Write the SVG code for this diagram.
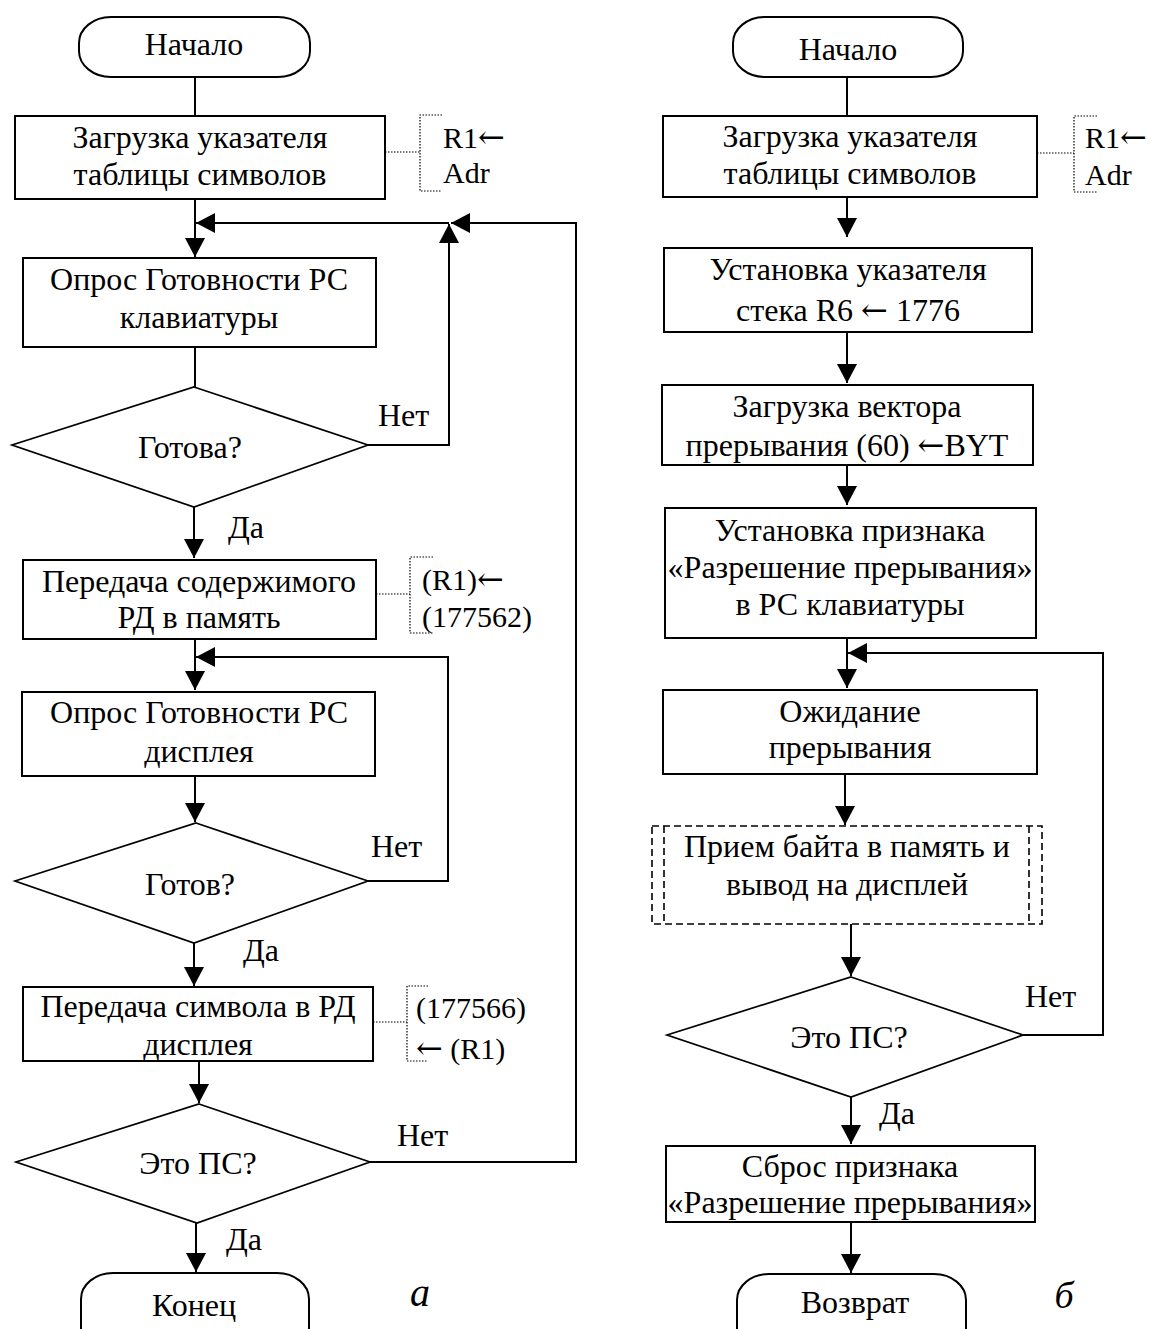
<svg xmlns="http://www.w3.org/2000/svg" width="1155" height="1329" viewBox="0 0 1155 1329">
<defs>
<marker id="ah" markerUnits="userSpaceOnUse" markerWidth="22" markerHeight="22" refX="19" refY="10" orient="auto">
<path d="M0,0 L19,10 L0,20 Z" fill="#000"/>
</marker>
<style>
text{font-family:"Liberation Serif","Times New Roman",serif;font-size:32px;fill:#000;text-anchor:middle}
.l{text-anchor:start}
.n{font-size:30px}
.ar{font-family:"DejaVu Serif","DejaVu Sans",serif;font-size:32px}
.it{font-style:italic}
.b{fill:#fff;stroke:#000;stroke-width:2}
.dm{fill:#fff;stroke:#000;stroke-width:1.7}
.c{fill:none;stroke:#000;stroke-width:2}
.a{fill:none;stroke:#000;stroke-width:2;marker-end:url(#ah)}
.d{fill:none;stroke:#000;stroke-width:1.2;stroke-dasharray:1.5,1.5}
.dash{fill:none;stroke:#000;stroke-width:1.6;stroke-dasharray:7,4}
</style>
</defs>
<rect width="1155" height="1329" fill="#fff"/>

<g id="connectors">
<!-- left chart -->
<line class="c" x1="195" y1="77" x2="195" y2="116"/>
<line class="a" x1="195" y1="199" x2="195" y2="257"/>
<line class="a" x1="449" y1="223" x2="196" y2="223"/>
<line class="c" x1="195" y1="347" x2="195" y2="387"/>
<polyline class="a" points="368,445 449,445 449,224"/>
<polyline class="a" points="370,1162 576,1162 576,223 451,223"/>
<line class="a" x1="194" y1="507" x2="194" y2="558"/>
<line class="a" x1="195" y1="639" x2="195" y2="690"/>
<polyline class="a" points="368,881 448,881 448,657 196,657"/>
<line class="a" x1="195" y1="776" x2="195" y2="822"/>
<line class="a" x1="194" y1="943" x2="194" y2="986"/>
<line class="a" x1="199" y1="1061" x2="199" y2="1103"/>
<line class="a" x1="196" y1="1223" x2="196" y2="1272"/>
<!-- right chart -->
<line class="c" x1="847" y1="77" x2="847" y2="116"/>
<line class="a" x1="847" y1="197" x2="847" y2="237"/>
<line class="a" x1="847" y1="332" x2="847" y2="383"/>
<line class="a" x1="847" y1="465" x2="847" y2="505"/>
<line class="a" x1="847" y1="638" x2="847" y2="688"/>
<polyline class="a" points="1023,1035 1103,1035 1103,653 848,653"/>
<line class="a" x1="845" y1="774" x2="845" y2="825"/>
<line class="a" x1="851" y1="924" x2="851" y2="976"/>
<line class="a" x1="851" y1="1097" x2="851" y2="1144"/>
<line class="a" x1="851" y1="1222" x2="851" y2="1273"/>
</g>

<!-- ===== Left chart (а) ===== -->
<g id="startL">
<rect class="b" x="79" y="17" width="231" height="60" rx="32" ry="26"/>
<text x="194" y="55">Начало</text>
</g>
<g id="boxL1">
<rect class="b" x="15" y="116" width="370" height="83"/>
<text x="200" y="148">Загрузка указателя</text>
<text x="200" y="185">таблицы символов</text>
</g>
<g id="noteL1">
<line class="d" x1="385" y1="152" x2="420" y2="152"/>
<polyline class="d" points="442,115 420,115 420,191 442,191"/>
<text class="l n" x="443" y="148">R1<tspan class="ar">←</tspan></text>
<text class="l n" x="443" y="183">Adr</text>
</g>
<g id="boxL2">
<rect class="b" x="23" y="258" width="353" height="89"/>
<text x="199" y="290">Опрос Готовности РС</text>
<text x="199" y="328">клавиатуры</text>
</g>
<g id="decL1">
<polygon class="dm" points="194,387 368,445 194,507 12,445"/>
<text x="190" y="458">Готова?</text>
</g>
<text class="l" x="378" y="426">Нет</text>
<text class="l" x="228" y="538">Да</text>
<g id="boxL3">
<rect class="b" x="23" y="560" width="353" height="79"/>
<text x="199" y="592">Передача содержимого</text>
<text x="199" y="628">РД в память</text>
</g>
<g id="noteL3">
<line class="d" x1="376" y1="594" x2="410" y2="594"/>
<polyline class="d" points="433,557 410,557 410,633 433,633"/>
<text class="l n" x="422" y="590">(R1)<tspan class="ar">←</tspan></text>
<text class="l n" x="422" y="627">(177562)</text>
</g>
<g id="boxL4">
<rect class="b" x="22" y="692" width="353" height="84"/>
<text x="199" y="723">Опрос Готовности РС</text>
<text x="199" y="762">дисплея</text>
</g>
<g id="decL2">
<polygon class="dm" points="196,823 368,881 194,943 15,881"/>
<text x="190" y="895">Готов?</text>
</g>
<text class="l" x="371" y="857">Нет</text>
<text class="l" x="243" y="961">Да</text>
<g id="boxL5">
<rect class="b" x="23" y="987" width="350" height="74"/>
<text x="198" y="1017">Передача символа в РД</text>
<text x="198" y="1055">дисплея</text>
</g>
<g id="noteL5">
<line class="d" x1="373" y1="1022" x2="407" y2="1022"/>
<polyline class="d" points="428,986 407,986 407,1061 428,1061"/>
<text class="l n" x="416" y="1018">(177566)</text>
<text class="l n" x="416" y="1059"><tspan class="ar">←</tspan> (R1)</text>
</g>
<g id="decL3">
<polygon class="dm" points="199,1104 370,1162 197,1223 16,1162"/>
<text x="198" y="1174">Это ПС?</text>
</g>
<text class="l" x="397" y="1146">Нет</text>
<text class="l" x="226" y="1250">Да</text>
<g id="endL">
<rect class="b" x="81" y="1273" width="228" height="90" rx="32" ry="26"/>
<text x="194" y="1316">Конец</text>
</g>
<text class="it" x="420" y="1306" style="font-size:40px">а</text>

<!-- ===== Right chart (б) ===== -->
<g id="startR">
<rect class="b" x="733" y="17" width="230" height="60" rx="32" ry="26"/>
<text x="848" y="60">Начало</text>
</g>
<g id="boxR1">
<rect class="b" x="663" y="116" width="374" height="81"/>
<text x="850" y="147">Загрузка указателя</text>
<text x="850" y="184">таблицы символов</text>
</g>
<g id="noteR1">
<line class="d" x1="1037" y1="153" x2="1074" y2="153"/>
<polyline class="d" points="1097,116 1074,116 1074,192 1097,192"/>
<text class="l n" x="1085" y="148">R1<tspan class="ar">←</tspan></text>
<text class="l n" x="1085" y="185">Adr</text>
</g>
<g id="boxR2">
<rect class="b" x="664" y="248" width="368" height="84"/>
<text x="848" y="280">Установка указателя</text>
<text x="848" y="321">стека R6 <tspan class="ar">←</tspan> 1776</text>
</g>
<g id="boxR3">
<rect class="b" x="662" y="385" width="371" height="80"/>
<text x="847" y="417">Загрузка вектора</text>
<text x="847" y="456">прерывания (60) <tspan class="ar">←</tspan>BYT</text>
</g>
<g id="boxR4">
<rect class="b" x="665" y="508" width="371" height="130"/>
<text x="850" y="541">Установка признака</text>
<text x="850" y="578">«Разрешение прерывания»</text>
<text x="850" y="615">в РС клавиатуры</text>
</g>
<g id="boxR5">
<rect class="b" x="663" y="690" width="374" height="84"/>
<text x="850" y="722">Ожидание</text>
<text x="850" y="758">прерывания</text>
</g>
<g id="boxR6">
<rect x="652" y="826" width="390" height="98" fill="#fff" stroke="none"/>
<rect class="dash" x="652" y="826" width="390" height="98"/>
<line class="dash" x1="664" y1="826" x2="664" y2="924"/>
<line class="dash" x1="1029" y1="826" x2="1029" y2="924"/>
<text x="847" y="857">Прием байта в память и</text>
<text x="847" y="895">вывод на дисплей</text>
</g>
<g id="decR1">
<polygon class="dm" points="851,977 1023,1035 851,1097 667,1035"/>
<text x="849" y="1048">Это ПС?</text>
</g>
<text class="l" x="1025" y="1007">Нет</text>
<text class="l" x="879" y="1124">Да</text>
<g id="boxR7">
<rect class="b" x="666" y="1146" width="369" height="76"/>
<text x="850" y="1177">Сброс признака</text>
<text x="850" y="1213">«Разрешение прерывания»</text>
</g>
<g id="endR">
<rect class="b" x="737" y="1274" width="229" height="90" rx="32" ry="26"/>
<text x="855" y="1313">Возврат</text>
</g>
<text class="it" x="1064" y="1308" style="font-size:38px">б</text>
</svg>
